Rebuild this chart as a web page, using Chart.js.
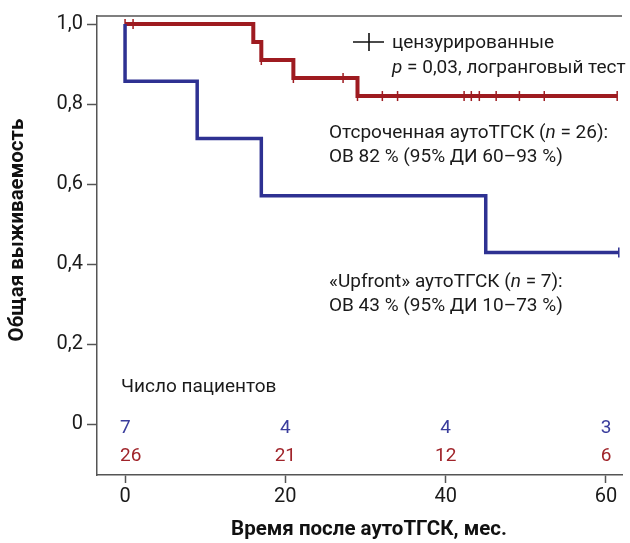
<!DOCTYPE html>
<html>
<head>
<meta charset="utf-8">
<script src="https://cdn.jsdelivr.net/npm/chart.js@4.4.0/dist/chart.umd.min.js"></script>
<style>
  html, body { margin: 0; padding: 0; background: #fff; }
  #wrap { width: 630px; height: 543px; position: relative; }
</style>
</head>
<body>
<div id="wrap"><canvas id="kmChart" width="630" height="543"></canvas></div>
<script>
// Kaplan-Meier: время события (мес.) и выживаемость после него
const delayedTimes = [0, 16, 17, 21, 29, 61.4];
const delayedSurv = [1, 0.955, 0.91, 0.865, 0.82, 0.82];
const delayedCensored = [0, 1, 17, 21, 27.2, 29, 32.1, 34, 42.3, 43.2, 44.2, 46.3, 49.2, 52.3, 61.4];

const upfrontTimes = [0, 0, 9, 17, 45, 61.6];
const upfrontSurv = [1, 0.857, 0.714, 0.571, 0.429, 0.429];
const upfrontCensored = [61.6];

// Число пациентов под риском
const riskTimes = [0, 20, 40, 60];
const riskUpfront = [7, 4, 4, 3];
const riskDelayed = [26, 21, 12, 6];

const xTicks = [0, 20, 40, 60];
const yTicks = [0, 0.2, 0.4, 0.6, 0.8, 1.0];

const RED = '#9e1b20';
const BLUE = '#2e3192';
const FONT = 'Roboto, "Liberation Sans", sans-serif';

function survAt(times, surv, t) {
    let s = surv[0];
    for (let i = 0; i < times.length; i++) {
        if (times[i] <= t) s = surv[i];
    }
    return s;
}

function toPoints(times, surv) {
    return times.map((t, i) => ({ x: t, y: surv[i] }));
}

function censorPoints(cens, times, surv) {
    return cens.map(t => ({ x: t, y: survAt(times, surv, t) }));
}

// текст из кусков (обычный / курсив)
function drawRuns(ctx, runs, x, y, size) {
    let cx = x;
    runs.forEach(r => {
        ctx.font = (r[1] ? 'italic ' : '') + size + 'px ' + FONT;
        ctx.fillText(r[0], cx, y);
        cx += ctx.measureText(r[0]).width;
    });
}

const annotations = {
    id: 'annotations',
    afterDraw(chart) {
        const ctx = chart.ctx;
        const xs = chart.scales.x;
        const area = chart.chartArea;
        ctx.save();

        // верхняя рамка
        ctx.strokeStyle = '#555';
        ctx.lineWidth = 1.5;
        ctx.beginPath();
        ctx.moveTo(area.left, area.top);
        ctx.lineTo(area.right, area.top);
        ctx.stroke();

        // знак цензурирования в легенде
        ctx.strokeStyle = '#111';
        ctx.lineWidth = 1.6;
        ctx.beginPath();
        ctx.moveTo(353, 42);
        ctx.lineTo(384, 42);
        ctx.moveTo(369, 33);
        ctx.lineTo(369, 51);
        ctx.stroke();

        ctx.fillStyle = '#1a1a1a';
        ctx.textBaseline = 'middle';
        ctx.textAlign = 'left';
        drawRuns(ctx, [['цензурированные', false]], 392, 43, 19);
        drawRuns(ctx, [['p', true], [' = 0,03, логранговый тест', false]], 392, 68, 19);

        drawRuns(ctx, [['Отсроченная аутоТГСК (', false], ['n', true], [' = 26):', false]], 329, 133, 19);
        drawRuns(ctx, [['ОВ 82 % (95% ДИ 60–93 %)', false]], 329, 157, 19);

        drawRuns(ctx, [['«Upfront» аутоТГСК (', false], ['n', true], [' = 7):', false]], 329, 282, 19);
        drawRuns(ctx, [['ОВ 43 % (95% ДИ 10–73 %)', false]], 329, 306, 19);

        drawRuns(ctx, [['Число пациентов', false]], 121, 387, 19);

        // числа под риском
        ctx.font = '19px ' + FONT;
        riskTimes.forEach((t, i) => {
            let px = xs.getPixelForValue(t);
            if (i === 0) {
                ctx.textAlign = 'left';
                px -= 5;
            } else {
                ctx.textAlign = 'center';
            }
            ctx.fillStyle = '#3a3d9c';
            ctx.fillText(String(riskUpfront[i]), px, 428);
            ctx.fillStyle = '#a0242a';
            ctx.fillText(String(riskDelayed[i]), px, 456);
        });

        // подписи осей
        ctx.fillStyle = '#111';
        ctx.font = 'bold 20.5px ' + FONT;
        ctx.textAlign = 'center';
        ctx.fillText('Время после аутоТГСК, мес.', 369, 530);
        ctx.translate(18, 230);
        ctx.rotate(-Math.PI / 2);
        ctx.fillText('Общая выживаемость', 0, 0);
        ctx.restore();
    }
};

const ctx = document.getElementById('kmChart');
new Chart(ctx, {
    type: 'line',
    data: {
        datasets: [
            {
                label: 'Upfront',
                data: toPoints(upfrontTimes, upfrontSurv),
                borderColor: BLUE,
                borderWidth: 3.5,
                stepped: 'before',
                pointRadius: 0,
                fill: false
            },
            {
                label: 'Отсроченная',
                data: toPoints(delayedTimes, delayedSurv),
                borderColor: RED,
                borderWidth: 4,
                stepped: 'before',
                pointRadius: 0,
                fill: false
            },
            {
                label: 'cens upfront',
                type: 'scatter',
                data: censorPoints(upfrontCensored, upfrontTimes, upfrontSurv),
                pointStyle: 'line',
                rotation: 90,
                pointRadius: 5,
                pointBorderWidth: 1.5,
                borderColor: BLUE,
                backgroundColor: BLUE,
                showLine: false
            },
            {
                label: 'cens delayed',
                type: 'scatter',
                data: censorPoints(delayedCensored, delayedTimes, delayedSurv),
                pointStyle: 'line',
                rotation: 90,
                pointRadius: 5,
                pointBorderWidth: 1.5,
                borderColor: RED,
                backgroundColor: RED,
                showLine: false
            }
        ]
    },
    options: {
        responsive: false,
        animation: false,
        layout: { padding: { top: 14, right: 8, left: 0, bottom: 0 } },
        plugins: {
            legend: { display: false },
            tooltip: { enabled: false }
        },
        scales: {
            x: {
                type: 'linear',
                min: -3.5,
                max: 62,
                afterBuildTicks: s => { s.ticks = xTicks.map(v => ({ value: v })); },
                afterFit: s => { s.height = 68; },
                grid: { drawOnChartArea: false, drawTicks: true, tickLength: 8, tickColor: '#555', tickWidth: 1.5 },
                border: { display: true, color: '#555', width: 1.5 },
                ticks: {
                    color: '#1a1a1a',
                    font: { family: FONT, size: 20 },
                    padding: 2,
                    maxRotation: 0
                },
                title: { display: false }
            },
            y: {
                min: -0.127,
                max: 1.02,
                afterBuildTicks: s => { s.ticks = yTicks.map(v => ({ value: v })); },
                afterFit: s => { s.width = 97; },
                grid: { drawOnChartArea: false, drawTicks: true, tickLength: 10, tickColor: '#555', tickWidth: 1.5 },
                border: { display: true, color: '#555', width: 1.5 },
                ticks: {
                    color: '#1a1a1a',
                    font: { family: FONT, size: 20 },
                    padding: 4,
                    callback: v => v === 0 ? '0' : v.toFixed(1).replace('.', ',')
                },
                title: { display: false }
            }
        }
    },
    plugins: [annotations]
});
</script>
</body>
</html>
